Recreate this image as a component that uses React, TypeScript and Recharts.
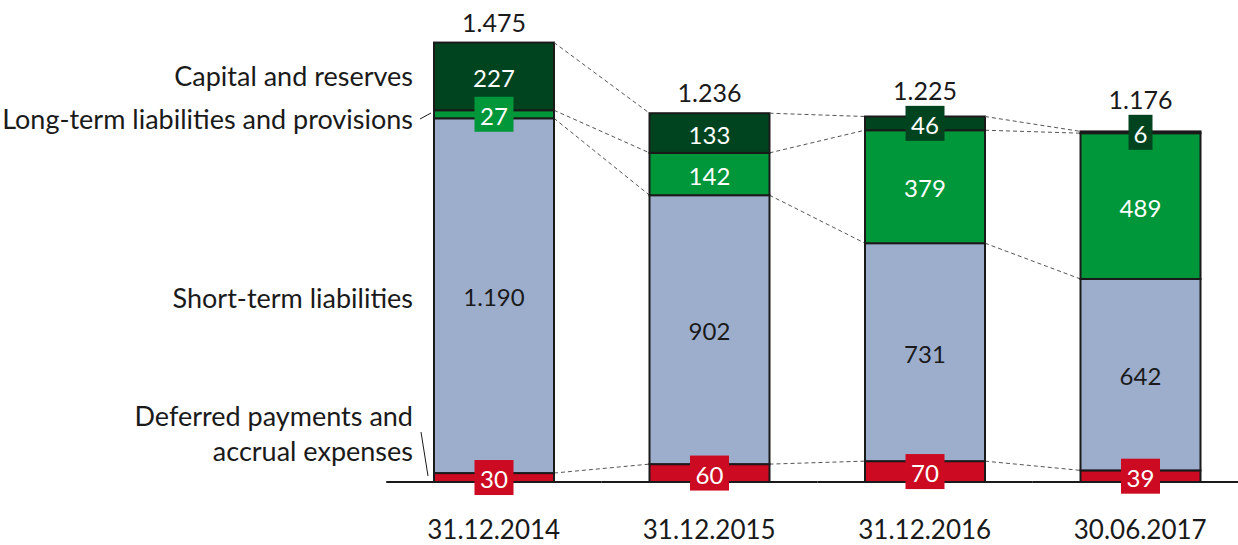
import React from "react";
import { BarChart, Bar, XAxis, YAxis } from "recharts";

const categories = ["31.12.2014", "31.12.2015", "31.12.2016", "30.06.2017"];
const deferred = [30, 60, 70, 39];
const shortTerm = [1190, 902, 731, 642];
const longTerm = [27, 142, 379, 489];
const capital = [227, 133, 46, 6];
const totals = [1475, 1236, 1225, 1176];

const SERIES = [
    { key: "deferred", label: "Deferred payments and accrual expenses", fill: "#cc0a22", text: "#ffffff" },
    { key: "shortTerm", label: "Short-term liabilities", fill: "#9daecd", text: "#1a1a1a" },
    { key: "longTerm", label: "Long-term liabilities and provisions", fill: "#00963a", text: "#ffffff" },
    { key: "capital", label: "Capital and reserves", fill: "#00441f", text: "#ffffff" },
];

const data = categories.map((name, i) => ({
    name,
    deferred: deferred[i],
    shortTerm: shortTerm[i],
    longTerm: longTerm[i],
    capital: capital[i],
    total: totals[i],
}));

const W = 1238;
const H = 545;
const MARGIN = { top: 5, right: -10, bottom: 23, left: 386 };
const STEP = (W - MARGIN.left - MARGIN.right) / categories.length;
const FONT = "Lato, 'Open Sans', sans-serif";
const INK = "#1a1a1a";

const fmt = (v: number) => String(v).replace(/\B(?=(\d{3})+(?!\d))/g, ".");

// sum of series 0..s for one row
const cum = (row: any, s: number) => {
    let t = 0;
    for (let j = 0; j <= s; j++) t += row[SERIES[j].key];
    return t;
};

const makeShape = (s: number) => (props: any) => {
    const { x, y, width, height, index } = props;
    const row: any = data[index];
    const v = row[SERIES[s].key];
    const k = height / v;
    const baseY = y + height + cum(row, s - 1) * k;
    const gap = (STEP - width) / 2;
    const out: any[] = [];
    if (s === 0) {
        // baseline drawn under the labels, band by band
        out.push(<line key="base" x1={x - gap} y1={baseY} x2={x + width + gap} y2={baseY} stroke={INK} strokeWidth={2} />);
    }
    out.push(<rect key="r" x={x} y={y} width={width} height={height} fill={SERIES[s].fill} stroke={INK} strokeWidth={2} />);
    if (index < data.length - 1) {
        const yNext = baseY - cum(data[index + 1], s) * k;
        out.push(
            <line key="c" x1={x + width} y1={y} x2={x + STEP} y2={yNext} stroke="#555" strokeWidth={1} strokeDasharray="4 3" />
        );
    }
    // labels for the whole column drawn with the top series so they sit above every rect
    if (s === SERIES.length - 1) {
        const cx = x + width / 2;
        let topBox = y;
        SERIES.forEach((ser, j) => {
            const val = row[ser.key];
            const top = baseY - cum(row, j) * k;
            const bottom = baseY - cum(row, j - 1) * k;
            const mid = (top + bottom) / 2;
            const txt = fmt(val);
            const boxed = j === 0 || val < 100;
            if (boxed) {
                const bw = 9 + txt.length * 15;
                out.push(<rect key={"b" + j} x={cx - bw / 2} y={mid - 17.5} width={bw} height={35} fill={ser.fill} />);
                if (j === SERIES.length - 1) topBox = Math.min(topBox, mid - 17.5 + 4);
            }
            out.push(
                <text key={"t" + j} x={cx} y={mid + 1} textAnchor="middle" dominantBaseline="central" fill={ser.text} fontSize={24} fontFamily={FONT}>
                    {txt}
                </text>
            );
        });
        out.push(
            <text key="tot" x={cx} y={Math.min(y - 21, topBox - 20)} textAnchor="middle" dominantBaseline="central" fill={INK} fontSize={25} fontFamily={FONT}>
                {fmt(row.total)}
            </text>
        );
    }
    return <g>{out}</g>;
};

const CategoryTick = ({ x, y, payload }: any) => (
    <text x={x} y={y + 39} textAnchor="middle" dominantBaseline="central" fill={INK} fontSize={26} fontFamily={FONT}>
        {payload.value}
    </text>
);

const NOTE = { fill: INK, fontSize: 27, fontFamily: FONT, textAnchor: "end" as const, dominantBaseline: "central" as const };

export default function App() {
    return (
        <div style={{ position: "fixed", left: 0, top: 0, width: W, height: H, background: "#fff" }}>
            <BarChart width={W} height={H} data={data} margin={MARGIN} barSize={120}>
                <XAxis dataKey="name" height={40} tickLine={false} axisLine={false} tick={<CategoryTick />} interval={0} />
                <YAxis hide domain={[0, 1600]} />
                {SERIES.map((s, i) => (
                    <Bar key={s.key} dataKey={s.key} stackId="a" fill={s.fill} shape={makeShape(i)} isAnimationActive={false} />
                ))}
            </BarChart>
            <svg width={W} height={H} style={{ position: "absolute", left: 0, top: 0, pointerEvents: "none" }}>
                <text x={413} y={75} {...NOTE}>{SERIES[3].label}</text>
                <text x={413} y={118} {...NOTE}>{SERIES[2].label}</text>
                <line x1={420} y1={119} x2={431} y2={113} stroke={INK} strokeWidth={1} />
                <text x={413} y={297} {...NOTE}>{SERIES[1].label}</text>
                <text x={413} y={415} {...NOTE}>Deferred payments and</text>
                <text x={413} y={450} {...NOTE}>accrual expenses</text>
                <line x1={421} y1={432} x2={428} y2={476} stroke={INK} strokeWidth={1} />
            </svg>
        </div>
    );
}
